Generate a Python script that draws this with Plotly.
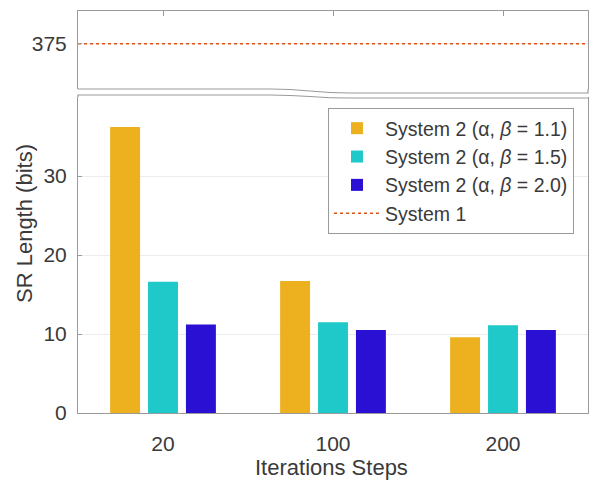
import plotly.graph_objects as go

# ---- data ----
steps = ["20", "100", "200"]
sys2_b11 = [36.2, 16.7, 9.6]
sys2_b15 = [16.6, 11.5, 11.1]
sys2_b20 = [11.2, 10.5, 10.5]
system1 = 375
series_names = ["System 2 (α, <i>β</i> = 1.1)",
                "System 2 (α, <i>β</i> = 1.5)",
                "System 2 (α, <i>β</i> = 2.0)"]
colors = ["#EDB120", "#1FC9C9", "#2A10D2"]
sys1_color = "#D95319"

W, H = 589, 493
ML, MR, MT, MB = 78, 1, 11, 80
PW, PH = W - ML - MR, H - MT - MB
xpos = list(range(1, len(steps) + 1))
xr = [0.5, len(steps) + 0.5]


def px(x):
    return (x - ML) / PW


def py(y):
    return (H - MB - y) / PH


axis_col = "#9a9a9a"
text_col = "#3a3a3a"
FONT = "Liberation Sans, Arial, sans-serif"

fig = go.Figure()
for vals, name, c in zip([sys2_b11, sys2_b15, sys2_b20], series_names, colors):
    fig.add_trace(go.Bar(x=xpos, y=vals, name=name, marker=dict(color=c, line=dict(width=0)),
                         xaxis="x", yaxis="y"))

fig.add_trace(go.Scatter(x=xr, y=[system1, system1], mode="lines", name="System 1",
                         line=dict(color=sys1_color, width=1.5, dash="dot"),
                         xaxis="x2", yaxis="y2"))

top_bottom = py(89)
bot_top = py(97)

fig.update_layout(
    width=W, height=H,
    margin=dict(l=ML, r=MR, t=MT, b=MB, autoexpand=False),
    paper_bgcolor="white", plot_bgcolor="white",
    font=dict(family=FONT, color=text_col, size=20),
    barmode="group", bargap=0.331, bargroupgap=0.21,
    showlegend=True,
    legend=dict(x=px(574), xanchor="right", y=py(108), yanchor="top",
                bgcolor="white", bordercolor=axis_col, borderwidth=1,
                font=dict(size=19.5, color=text_col), tracegroupgap=0,
                itemwidth=46),
    xaxis=dict(domain=[0, 1], range=xr, anchor="y", tickvals=xpos, ticktext=steps,
               showline=True, linecolor=axis_col, linewidth=1, mirror=False,
               ticks="", showgrid=False, zeroline=False, automargin=False,
               tickfont=dict(size=21, color=text_col), ticklabelstandoff=12),
    yaxis=dict(domain=[0, bot_top], range=[0, 40], anchor="x",
               tickvals=[0, 10, 20, 30], showline=True, linecolor=axis_col, linewidth=1,
               mirror=True, ticks="inside", ticklen=4, tickcolor=axis_col,
               showgrid=True, gridcolor="#ededed", zeroline=False, automargin=False,
               tickfont=dict(size=21, color=text_col), ticklabelstandoff=6),
    xaxis2=dict(domain=[0, 1], range=xr, anchor="y2", side="top", tickvals=xpos,
                showticklabels=False, showline=True, linecolor=axis_col, linewidth=1,
                ticks="inside", ticklen=5, tickcolor=axis_col, showgrid=False,
                zeroline=False, automargin=False),
    yaxis2=dict(domain=[top_bottom, 1], range=[369.2, 379.2], anchor="x2",
                tickvals=[system1], showline=True, linecolor=axis_col, linewidth=1,
                mirror=True, ticks="inside", ticklen=4, tickcolor=axis_col,
                showgrid=True, gridcolor="#ededed", zeroline=False, automargin=False,
                tickfont=dict(size=21, color=text_col), ticklabelstandoff=6),
)


def wavy(left_y, right_y, xs=270, xe=350):
    mid = (xs + xe) / 2
    return (f"L {px(xs)},{py(left_y)} "
            f"C {px(mid)},{py(left_y)} {px(mid)},{py(right_y)} {px(xe)},{py(right_y)} "
            f"L {px(W - MR)},{py(right_y)}")


fig.add_shape(type="path", xref="paper", yref="paper",
              path=f"M {px(ML)},{py(89)} " + wavy(89, 93) + f" L {px(W - MR)},{py(89)}",
              line=dict(color=axis_col, width=1.2))
fig.add_shape(type="path", xref="paper", yref="paper",
              path=f"M {px(ML)},{py(97)} L {px(ML)},{py(95)} " + wavy(95, 98),
              line=dict(color=axis_col, width=1.2))

fig.add_annotation(text="SR Length (bits)", xref="paper", yref="paper",
                   x=px(24), y=py(224), xanchor="center", yanchor="middle",
                   textangle=-90, showarrow=False, font=dict(size=22, color=text_col))
fig.add_annotation(text="Iterations Steps", xref="paper", yref="paper",
                   x=px(331), y=py(467), xanchor="center", yanchor="middle",
                   showarrow=False, font=dict(size=22, color=text_col))

fig.write_html("out.html", config={"displayModeBar": False},
               post_script="document.body.style.margin='0';document.body.style.overflow='hidden';")
